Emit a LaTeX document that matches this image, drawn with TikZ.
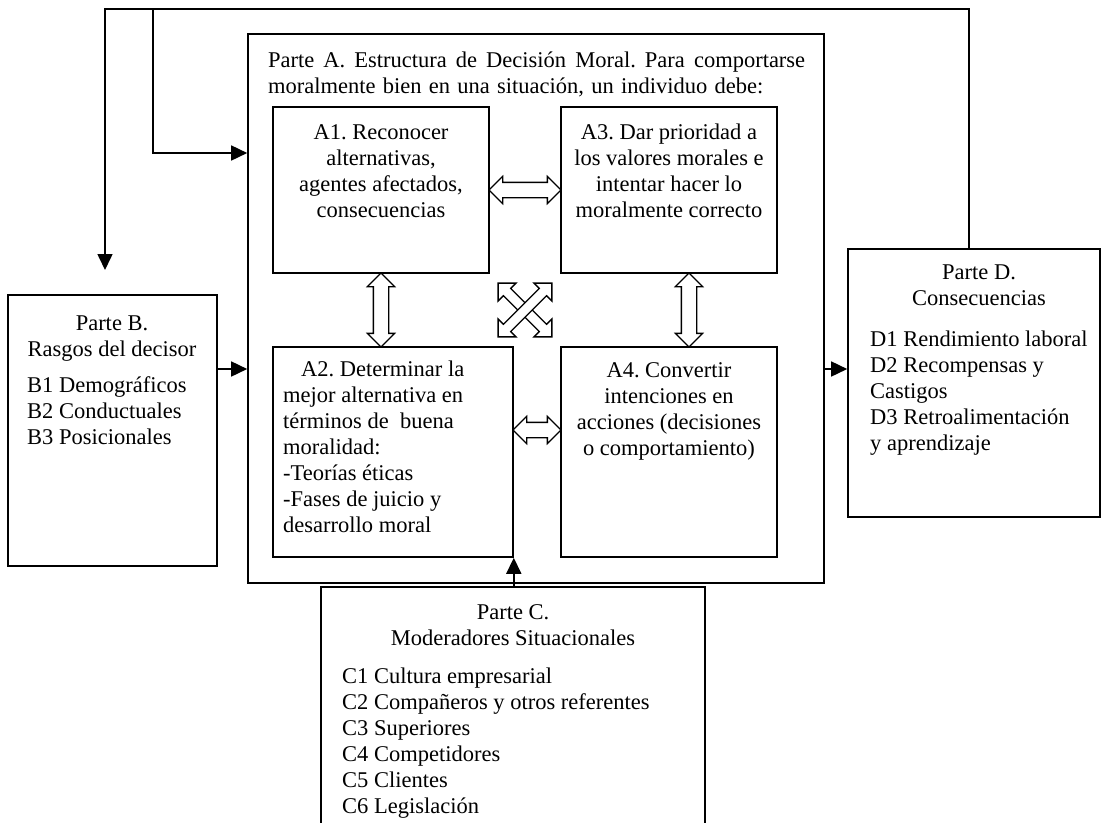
\documentclass[tikz,border=0pt]{standalone}
\usepackage{fontspec}
\setmainfont{Liberation Serif}
\usetikzlibrary{arrows.meta,shapes.arrows,calc}
\frenchspacing
\begin{document}
\begin{tikzpicture}[x=1pt,y=-1pt,
  box/.style={draw, line width=1.6pt, inner sep=0pt},
  txt/.style={inner sep=0pt, font=\fontsize{22.5}{26}\selectfont},
  flow/.style={line width=1.6pt, -{Triangle[length=16pt,width=15pt]}},
  hollow/.style={draw, fill=white, line width=1.3pt, double arrow,
    double arrow head extend=6pt, double arrow tip angle=90,
    inner xsep=0pt, inner ysep=7pt},
  xhollow/.style={hollow, inner ysep=4.5pt, double arrow head extend=7.5pt},
]
\clip (0,0) rectangle (1103,822);

% Part A and its four steps
\node[box, minimum width=576pt, minimum height=549pt] (A) at (536,308.5) {};
\node[box, minimum width=216pt, minimum height=166pt] (A1) at (381,190) {};
\node[box, minimum width=216pt, minimum height=166pt] (A3) at (669,190) {};
\node[box, minimum width=240pt, minimum height=210pt] (A2) at (393,452) {};
\node[box, minimum width=216pt, minimum height=210pt] (A4) at (669,452) {};

% Parts B, C, D
\node[box, minimum width=209pt, minimum height=271pt] (B) at (112.5,430.5) {};
\node[box, minimum width=252pt, minimum height=268pt] (D) at (974,383) {};
\node[box, minimum width=384pt, minimum height=253pt] (C) at (513,713.5) {};

% texts
\node[txt, anchor=north west, align=left] (tA) at (268,52)
  {\makebox[537pt][s]{Parte A. Estructura de Decisión Moral. Para comportarse}\\
   \makebox[495pt][s]{moralmente bien en una situación, un individuo debe:}};
\node[txt, anchor=north, align=center] (t1) at (381,124)
  {A1. Reconocer\\alternativas,\\agentes afectados,\\consecuencias};
\node[txt, anchor=north, align=center] (t3) at (669,124)
  {A3. Dar prioridad a\\los valores morales e\\intentar hacer lo\\moralmente correcto};
\node[txt, anchor=north west, align=left] (t2) at (283,361)
  {\hspace*{18pt}A2. Determinar la\\mejor alternativa en\\términos de\ \ buena\\moralidad:\\-Teorías éticas\\-Fases de juicio y\\desarrollo moral};
\node[txt, anchor=north, align=center] (t4) at (669,362)
  {A4. Convertir\\intenciones en\\acciones (decisiones\\o comportamiento)};
\node[txt, anchor=north, align=center] (tB) at (112,316)
  {Parte B.\\Rasgos del decisor};
\node[txt, anchor=north west, align=left] (lB) at (27,376)
  {B1 Demográficos\\B2 Conductuales\\B3 Posicionales};
\node[txt, anchor=north, align=center] (tD) at (979,265)
  {Parte D.\\Consecuencias};
\node[txt, anchor=north west, align=left] (lD) at (870,331)
  {D1 Rendimiento laboral\\D2 Recompensas y\\Castigos\\D3 Retroalimentación\\y aprendizaje};
\node[txt, anchor=north, align=center] (tC) at (513,604)
  {Parte C.\\Moderadores Situacionales};
\node[txt, anchor=north west, align=left] (lC) at (342,668)
  {C1 Cultura empresarial\\C2 Compañeros y otros referentes\\C3 Superiores\\C4 Competidores\\C5 Clientes\\C6 Legislación};

% hollow two-way arrows between the steps
\node[hollow, minimum height=72pt] (h13) at ($(A1.east)!0.5!(A3.west)$) {};
\node[hollow, minimum height=48pt] (h24) at (537,430) {};
\node[hollow, minimum height=74pt, rotate=90] (h12) at (381,310) {};
\node[hollow, minimum height=74pt, rotate=90] (h34) at (689,310) {};
\node[xhollow, minimum height=76pt, rotate=-45] (x1) at (525,310) {};
\node[xhollow, minimum height=76pt, rotate=45] (x2) at (525,310) {};

% feedback loop and flows
\coordinate (tl) at (105,9);
\coordinate (tm) at (153,9);
\coordinate (tr) at (969,9);
\coordinate (bin) at (105,270);
\coordinate (k1) at (153,153);
\coordinate (yb) at (0,369);
\draw[flow] (D.north -| tr) -- (tr) -- (tl) -- (bin);
\draw[flow] (tm) -- (k1) -- (k1 -| A.west);
\draw[flow] (B.east |- yb) -- (A.west |- yb);
\draw[flow] (A.east |- yb) -- (D.west |- yb);
\draw[flow] (C.north -| A2.east) -- (A2.south east);
\end{tikzpicture}
\end{document}
